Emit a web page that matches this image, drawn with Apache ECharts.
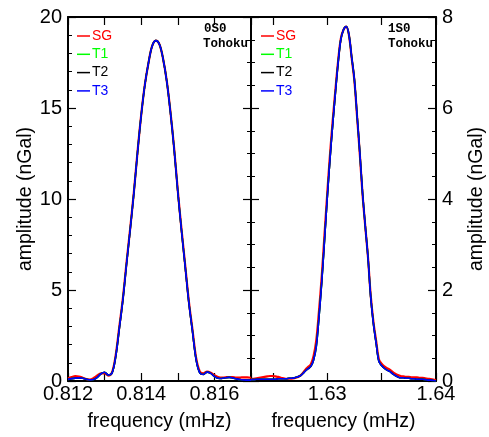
<!DOCTYPE html>
<html>
<head>
<meta charset="utf-8">
<script src="https://cdn.jsdelivr.net/npm/echarts@6/dist/echarts.min.js"></script>
<style>
html,body{margin:0;padding:0;background:#fff;}
#chart{width:489px;height:437px;}
</style>
</head>
<body>
<div id="chart"></div>
<script>
// ---- data ----
const seriesNames = ['SG', 'T1', 'T2', 'T3'];
const seriesColors = ['#ff0000', '#00ff00', '#000000', '#0000ff'];

const modeLeft = '0S0';
const modeRight = '1S0';
const eventName = 'Tohoku';

const xTicksLeft = [0.812, 0.813, 0.814, 0.815, 0.816, 0.817];
const xLabelsLeft = [0.812, 0.814, 0.816];
const xTicksRight = [1.625, 1.63, 1.635, 1.64];
const xLabelsRight = [1.63, 1.64];

const freqL = [0.8120,0.8121,0.8122,0.8123,0.8124,0.8125,0.8126,0.8127,0.8128,0.8129,
0.8130,0.8131,0.8132,0.8133,0.8134,0.8135,0.8136,0.8137,0.8138,0.8139,
0.8140,0.8141,0.8142,0.8143,0.8144,0.8145,0.8146,0.8147,0.8148,0.8149,
0.8150,0.8151,0.8152,0.8153,0.8154,0.8155,0.8156,0.8157,0.8158,0.8159,
0.8160,0.8161,0.8162,0.8163,0.8164,0.8165,0.8166,0.8167,0.8168,0.8169,0.8170];

const sgL = [0.15,0.22,0.27,0.25,0.18,0.10,0.08,0.16,0.30,0.42,
0.42,0.30,0.46,1.38,2.95,4.56,6.52,8.40,10.38,12.60,
14.62,16.28,17.49,18.41,18.70,18.49,17.68,16.46,14.77,12.78,
10.46,8.36,6.40,4.42,2.84,1.28,0.53,0.42,0.52,0.46,
0.32,0.22,0.18,0.20,0.22,0.21,0.19,0.19,0.20,0.20,0.18];

const t1L = [0.09,0.13,0.16,0.17,0.15,0.10,0.06,0.08,0.20,0.40,
0.48,0.33,0.42,1.30,2.85,4.47,6.44,8.34,10.34,12.57,
14.60,16.27,17.49,18.41,18.70,18.49,17.68,16.45,14.74,12.74,
10.40,8.29,6.33,4.34,2.75,1.18,0.45,0.36,0.49,0.42,
0.25,0.15,0.14,0.18,0.20,0.17,0.12,0.08,0.06,0.05,0.05];

const t2L = [0.09,0.13,0.16,0.17,0.15,0.10,0.06,0.08,0.20,0.40,
0.48,0.33,0.42,1.30,2.85,4.47,6.44,8.34,10.34,12.57,
14.60,16.27,17.49,18.41,18.70,18.49,17.68,16.45,14.74,12.74,
10.40,8.29,6.33,4.34,2.75,1.18,0.45,0.36,0.49,0.42,
0.25,0.15,0.14,0.18,0.20,0.17,0.12,0.08,0.06,0.05,0.05];

const t3L = [0.09,0.13,0.16,0.17,0.15,0.10,0.06,0.08,0.20,0.40,
0.48,0.33,0.42,1.30,2.85,4.47,6.44,8.34,10.34,12.57,
14.60,16.27,17.49,18.41,18.70,18.49,17.68,16.45,14.74,12.74,
10.40,8.29,6.33,4.34,2.75,1.18,0.45,0.36,0.49,0.42,
0.25,0.15,0.14,0.18,0.20,0.17,0.12,0.08,0.06,0.05,0.05];

const freqR = [1.62300,1.62325,1.62350,1.62375,1.62400,1.62425,1.62450,1.62475,1.62500,1.62525,
1.62550,1.62575,1.62600,1.62625,1.62650,1.62675,1.62700,1.62725,1.62750,1.62775,
1.62800,1.62825,1.62850,1.62875,1.62900,1.62925,1.62950,1.62975,1.63000,1.63025,
1.63050,1.63075,1.63100,1.63125,1.63150,1.63175,1.63200,1.63225,1.63250,1.63275,
1.63300,1.63325,1.63350,1.63375,1.63400,1.63425,1.63450,1.63475,1.63500,1.63525,
1.63550,1.63575,1.63600,1.63625,1.63650,1.63675,1.63700,1.63725,1.63750,1.63775,
1.63800,1.63825,1.63850,1.63875,1.63900,1.63925,1.63950,1.63975,1.64000];

const sgR = [0.04,0.05,0.06,0.07,0.08,0.09,0.10,0.11,0.11,0.10,
0.09,0.07,0.06,0.05,0.05,0.05,0.06,0.08,0.11,0.17,
0.25,0.31,0.37,0.55,0.90,1.55,2.30,3.20,4.10,4.95,
5.70,6.38,7.02,7.52,7.72,7.79,7.60,7.10,6.60,5.80,
4.98,4.10,3.40,2.72,1.88,1.30,0.88,0.48,0.38,0.32,
0.28,0.25,0.20,0.16,0.13,0.11,0.10,0.09,0.09,0.08,
0.08,0.08,0.07,0.07,0.06,0.05,0.04,0.03,0.02];

const t1R = [0.03,0.03,0.04,0.04,0.04,0.04,0.04,0.04,0.04,0.04,
0.05,0.05,0.05,0.05,0.06,0.06,0.07,0.09,0.11,0.16,
0.22,0.27,0.32,0.46,0.76,1.41,2.17,3.07,4.00,4.85,
5.61,6.32,6.98,7.50,7.72,7.79,7.61,7.12,6.63,5.83,
5.02,4.13,3.41,2.72,1.85,1.26,0.83,0.43,0.34,0.28,
0.24,0.21,0.16,0.12,0.09,0.07,0.07,0.06,0.06,0.05,
0.05,0.04,0.04,0.04,0.03,0.02,0.02,0.01,0.00];

const t2R = [0.03,0.03,0.04,0.04,0.04,0.04,0.04,0.04,0.04,0.04,
0.05,0.05,0.05,0.05,0.06,0.06,0.07,0.09,0.11,0.16,
0.22,0.27,0.32,0.46,0.76,1.41,2.17,3.07,4.00,4.85,
5.61,6.32,6.98,7.50,7.72,7.79,7.61,7.12,6.63,5.83,
5.02,4.13,3.41,2.72,1.85,1.26,0.83,0.43,0.34,0.28,
0.24,0.21,0.16,0.12,0.09,0.07,0.07,0.06,0.06,0.05,
0.05,0.04,0.04,0.04,0.03,0.02,0.02,0.01,0.00];

const t3R = [0.03,0.03,0.04,0.04,0.04,0.04,0.04,0.04,0.04,0.04,
0.05,0.05,0.05,0.05,0.06,0.06,0.07,0.09,0.11,0.16,
0.22,0.27,0.32,0.46,0.76,1.41,2.17,3.07,4.00,4.85,
5.61,6.32,6.98,7.50,7.72,7.79,7.61,7.12,6.63,5.83,
5.02,4.13,3.41,2.72,1.85,1.26,0.83,0.43,0.34,0.28,
0.24,0.21,0.16,0.12,0.09,0.07,0.07,0.06,0.06,0.05,
0.05,0.04,0.04,0.04,0.03,0.02,0.02,0.01,0.00];

// ---- chart ----
const FONT = 'Liberation Sans, Arial, Helvetica, sans-serif';
const MONO = 'Liberation Mono, Courier New, monospace';
const lineW = 2;

function pairs(xs, ys) { return xs.map((x, i) => [x, ys[i]]); }

function xAx(grid, pos, min, max, ticks, labels, showLabel) {
  return {
    type: 'value', gridIndex: grid, position: pos, min: min, max: max,
    axisLine: { show: true, onZero: false, lineStyle: { color: '#000', width: lineW } },
    axisTick: { show: true, inside: true, length: 8, customValues: ticks, lineStyle: { color: '#000', width: 1.2 } },
    axisLabel: showLabel ? { show: true, customValues: labels, margin: 3, fontSize: 20, fontFamily: FONT, color: '#000', formatter: v => String(v) } : { show: false },
    splitLine: { show: false },
    name: showLabel ? 'frequency (mHz)' : '',
    nameLocation: 'middle', nameGap: 31,
    nameTextStyle: { fontSize: 19.5, fontFamily: FONT, color: '#000' }
  };
}

function yAx(grid, pos, max, interval, split, showLabel, withName) {
  return {
    type: 'value', gridIndex: grid, position: pos, min: 0, max: max, interval: interval,
    axisLine: { show: true, onZero: false, lineStyle: { color: '#000', width: lineW } },
    axisTick: { show: true, inside: true, length: 8, lineStyle: { color: '#000', width: 1.2 } },
    minorTick: { show: true, splitNumber: split, length: 4, lineStyle: { color: '#000', width: 1 } },
    axisLabel: showLabel ? { show: true, margin: 6, fontSize: 20, fontFamily: FONT, color: '#000' } : { show: false },
    splitLine: { show: false },
    minorSplitLine: { show: false },
    name: withName ? 'amplitude (nGal)' : '',
    nameLocation: 'middle', nameRotate: 90, nameGap: 31,
    nameTextStyle: { fontSize: 19.5, fontFamily: FONT, color: '#000' }
  };
}

const series = [];
const leftData = [sgL, t1L, t2L, t3L];
const rightData = [sgR, t1R, t2R, t3R];
seriesNames.forEach((n, k) => {
  series.push({
    name: n, type: 'line', xAxisIndex: 0, yAxisIndex: 0,
    data: pairs(freqL, leftData[k]), showSymbol: false, symbol: 'none', smooth: 0.35,
    lineStyle: { color: seriesColors[k], width: k === 0 ? 2.2 : 1.6 },
    itemStyle: { color: seriesColors[k] }, z: 3 + k, silent: true, clip: true
  });
});
seriesNames.forEach((n, k) => {
  series.push({
    name: n, type: 'line', xAxisIndex: 2, yAxisIndex: 3,
    data: pairs(freqR, rightData[k]), showSymbol: false, symbol: 'none', smooth: 0.35,
    lineStyle: { color: seriesColors[k], width: k === 0 ? 2.2 : 1.6 },
    itemStyle: { color: seriesColors[k] }, z: 3 + k, silent: true, clip: true
  });
});

function legendAt(left) {
  return {
    left: left, top: 24, orient: 'vertical', itemGap: 4.3, itemWidth: 13, itemHeight: 1.5,
    icon: 'rect', selectedMode: false,
    textStyle: { fontSize: 14, fontFamily: FONT, lineHeight: 14, padding: [0, 0, 0, -3] },
    data: seriesNames.map((n, k) => ({ name: n, textStyle: { color: seriesColors[k] } }))
  };
}

const option = {
  animation: false,
  backgroundColor: '#fff',
  grid: [
    { left: 68, top: 17, width: 183, height: 368 },
    { left: 251, top: 17, width: 185, height: 368 }
  ],
  xAxis: [
    xAx(0, 'bottom', 0.812, 0.817, xTicksLeft, xLabelsLeft, true),
    xAx(0, 'top', 0.812, 0.817, xTicksLeft, xLabelsLeft, false),
    xAx(1, 'bottom', 1.623, 1.64, xTicksRight, xLabelsRight, true),
    xAx(1, 'top', 1.623, 1.64, xTicksRight, xLabelsRight, false)
  ],
  yAxis: [
    yAx(0, 'left', 20, 5, 5, true, true),
    yAx(0, 'right', 8, 2, 4, false, false),
    yAx(1, 'left', 8, 2, 4, false, false),
    yAx(1, 'right', 8, 2, 4, true, true)
  ],
  legend: [legendAt(72), legendAt(256)],
  graphic: [
    { type: 'text', left: 204, top: 22, style: { text: modeLeft, font: 'bold 12.5px ' + MONO, fill: '#000' } },
    { type: 'text', left: 203, top: 37, style: { text: eventName, font: 'bold 12.5px ' + MONO, fill: '#000' } },
    { type: 'text', left: 388, top: 22, style: { text: modeRight, font: 'bold 12.5px ' + MONO, fill: '#000' } },
    { type: 'text', left: 388, top: 37, style: { text: eventName, font: 'bold 12.5px ' + MONO, fill: '#000' } }
  ],
  series: series
};

const chart = echarts.init(document.getElementById('chart'), null, { renderer: 'canvas' });
chart.setOption(option);
</script>
</body>
</html>
